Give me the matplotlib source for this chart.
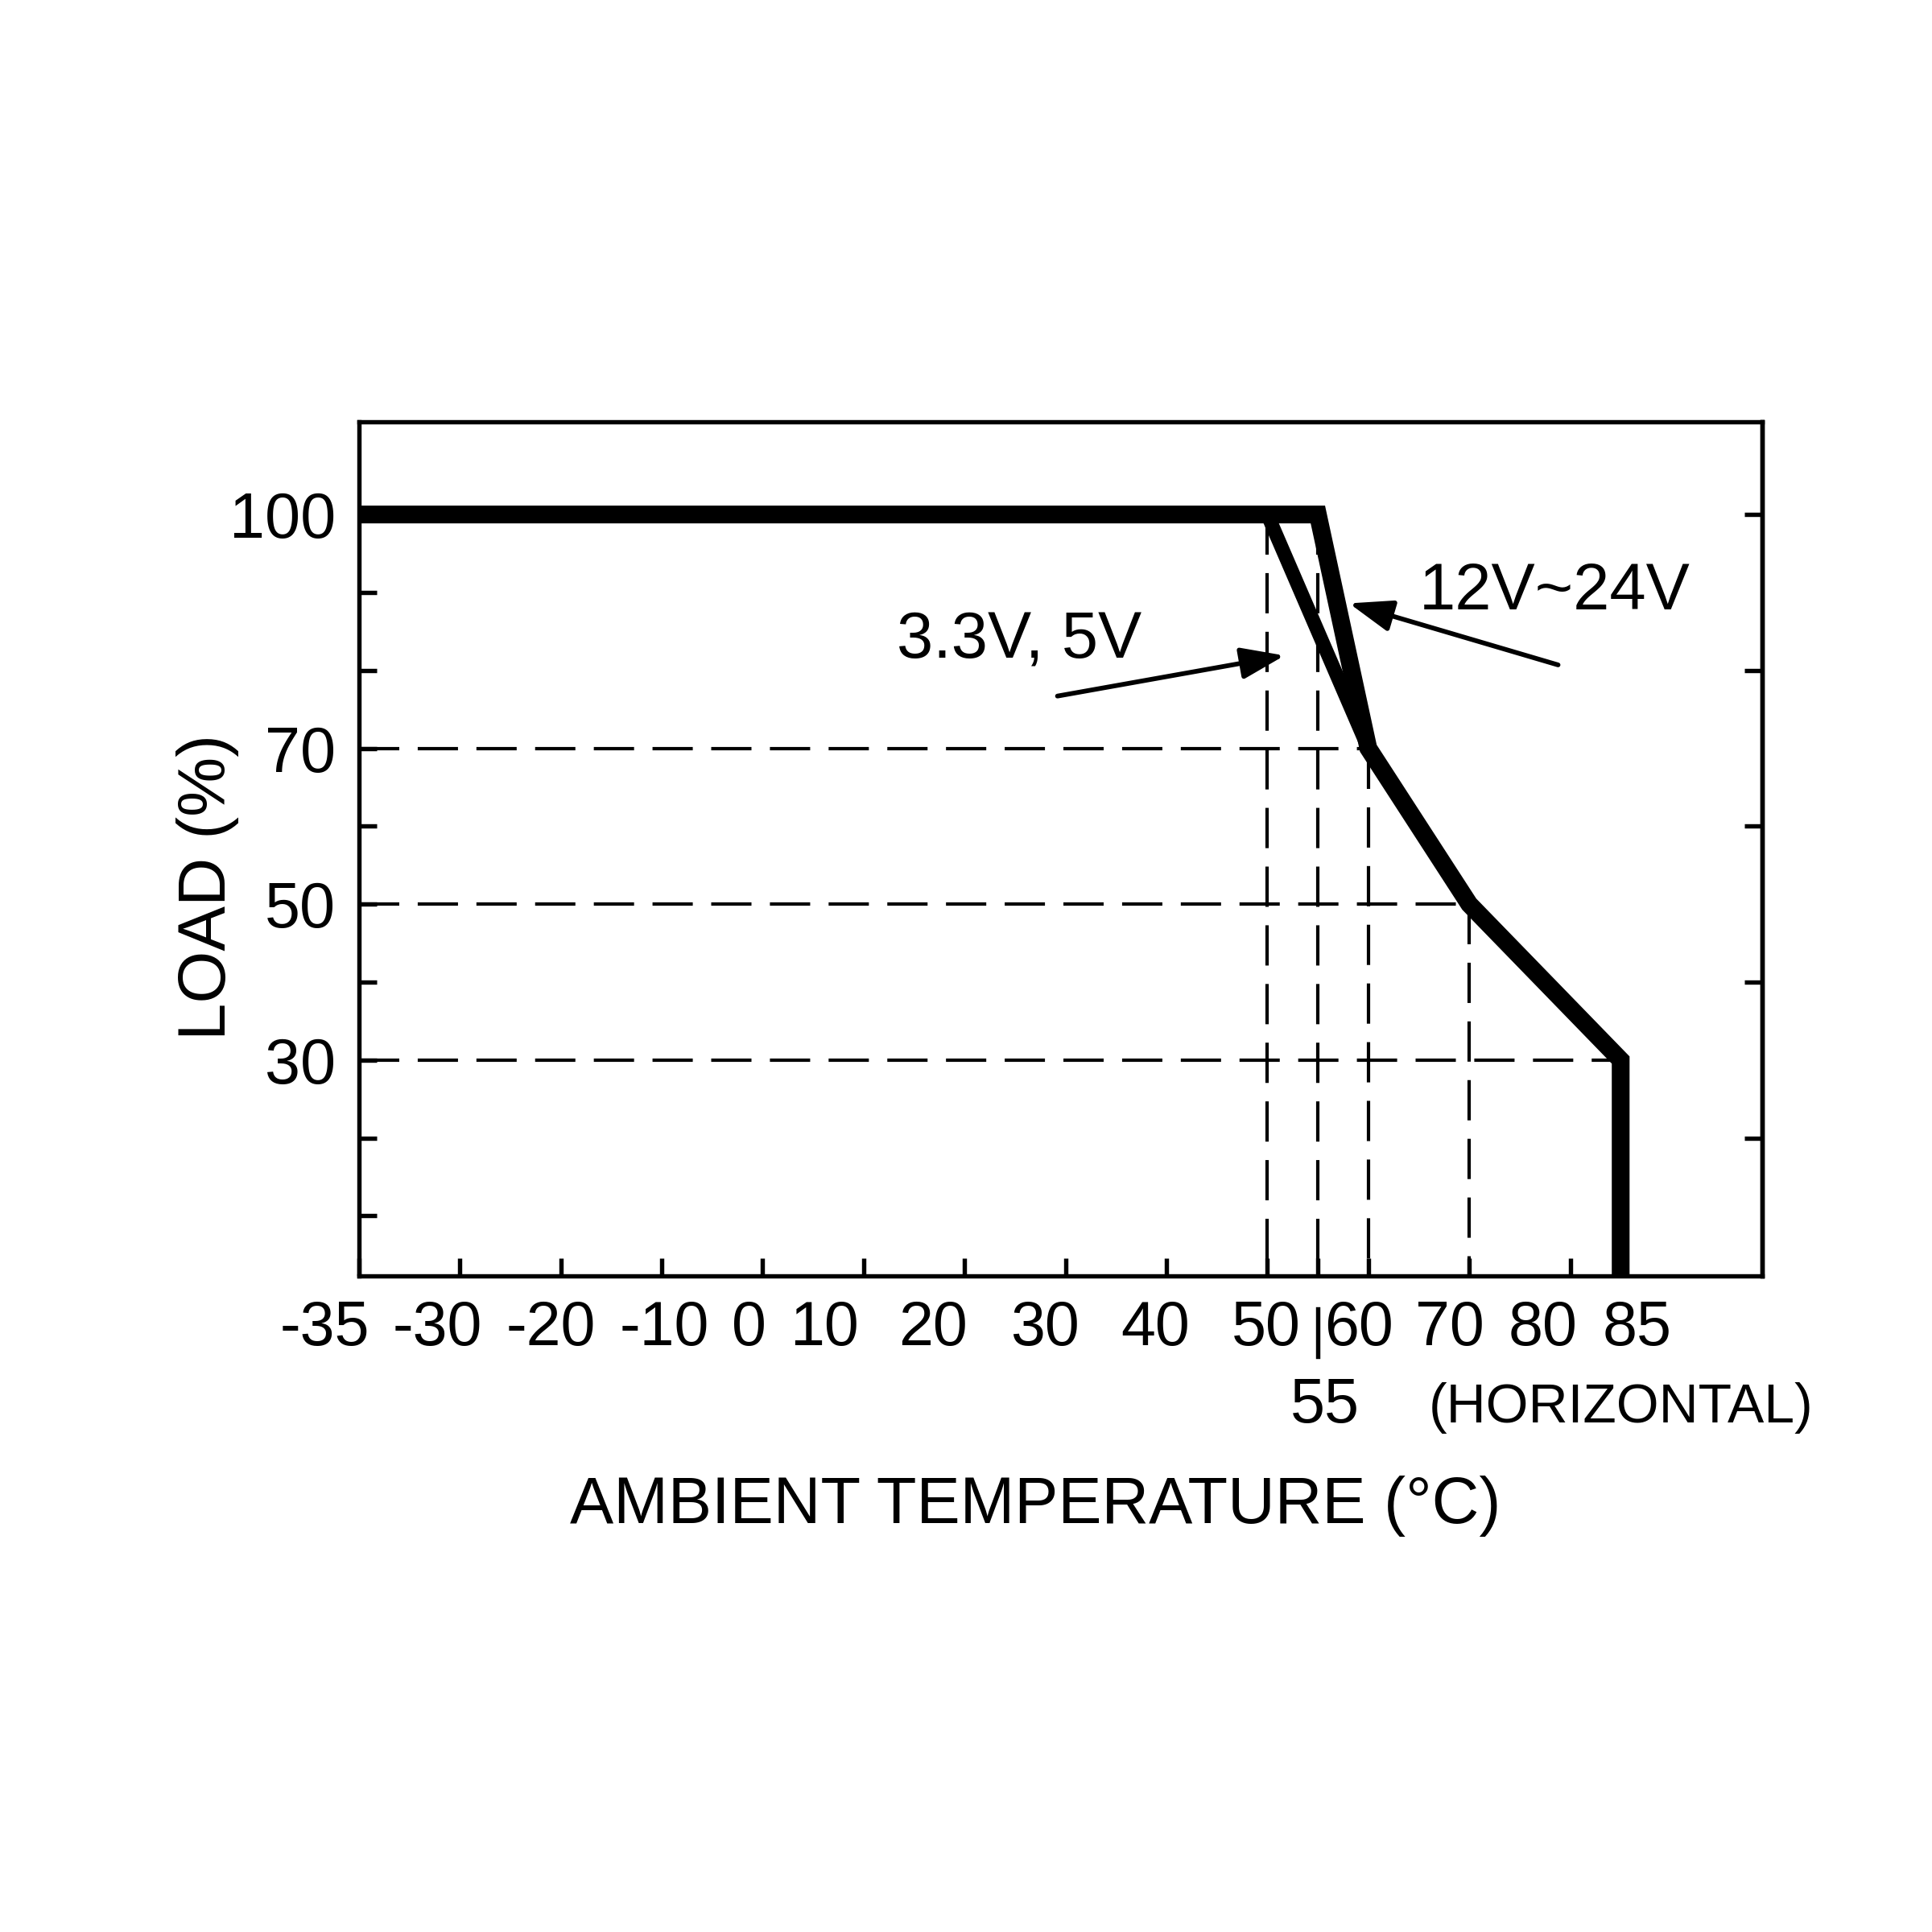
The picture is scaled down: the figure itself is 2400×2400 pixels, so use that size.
import numpy as np
import matplotlib.pyplot as plt
import matplotlib.transforms as mtransforms

plt.rcParams['font.family'] = ['Liberation Sans', 'DejaVu Sans']

# Derating curves (ambient temperature in C, load in %)
temp_12v = [-35, 55, 60, 70, 85, 85]
load_12v = [100, 100, 70, 50, 30, 0]
temp_5v = [50, 60]
load_5v = [100, 70]

# Axis ticks
x_ticks = [-35, -30, -20, -10, 0, 10, 20, 30, 40, 50, 55, 60, 70, 80, 85]
x_labels = ['-35', '-30', '-20', '-10', '0', '10', '20', '30', '40', '50', '', '60', '70', '80', '85']
y_major = [100, 70, 50, 30]
y_minor = [90, 80, 60, 40, 20, 10]
y_right = [100, 80, 60, 40, 20]

# Dashed guide lines
h_guides = [(70, 60), (50, 70), (30, 85)]              # (load, temperature where it ends)
v_guides = [(50, 100), (55, 100), (60, 70), (70, 50)]  # (temperature, load where it starts)

# the drawing's tick labels are not centred on their ticks (shift in points)
x_label_shift = [-10.3, -6.6, -2.9, 0.7, -4.0, -11.7, -9.5, -6.2, -3.3, -0.4, 0, -2.9, -5.9, -8.1, 4.8]


# -35..-30 is squeezed into the space of 10 degrees on the drawing
def fwd(t):
    t = np.asarray(t, dtype=float)
    return np.where(t < -30, 2 * t + 30, t)


def inv(u):
    u = np.asarray(u, dtype=float)
    return np.where(u < -30, (u - 30) / 2, u)


fig = plt.figure(figsize=(8, 8), dpi=300)
ax = fig.add_axes([0.1858, 0.3396, 0.7262, 0.4421])
ax.set_xscale('function', functions=(fwd, inv))
ax.set_xlim(-35, 99)
ax.set_ylim(2.3, 111.9)

dash = (0, (12, 5.5))
for load, t_end in h_guides:
    ax.plot([-35, t_end], [load, load], color='black', lw=1.0, linestyle=dash, zorder=1)
for t, load in v_guides:
    ax.plot([t, t], [load, 0], color='black', lw=1.0, linestyle=dash, zorder=1)

ax.plot(temp_5v, load_5v, color='black', lw=4.2, solid_joinstyle='miter',
        solid_capstyle='butt', zorder=3)
ax.plot(temp_12v, load_12v, color='black', lw=5.3, solid_joinstyle='miter',
        solid_capstyle='butt', zorder=3)

# Labels and arrows
ax.text(13.3, 83.7, '3.3V, 5V', fontsize=19.5, ha='left', va='center')
ax.annotate('', xy=(51.7, 81.9), xytext=(29.2, 76.7),
            arrowprops=dict(arrowstyle='-|>,head_length=0.55,head_width=0.2',
                            mutation_scale=20, lw=1.4, color='black',
                            shrinkA=0, shrinkB=0))
ax.text(65.0, 90.0, '12V~24V', fontsize=19.5, ha='left', va='center')
ax.annotate('', xy=(58.1, 88.6), xytext=(78.8, 80.7),
            arrowprops=dict(arrowstyle='-|>,head_length=0.55,head_width=0.2',
                            mutation_scale=20, lw=1.4, color='black',
                            shrinkA=0, shrinkB=0))

# Axes styling
for s in ax.spines.values():
    s.set_linewidth(1.3)
ax.set_xticks(x_ticks)
ax.set_xticklabels(x_labels)
ax.set_yticks(y_major)
ax.set_yticks(y_minor, minor=True)
ax.xaxis.set_minor_locator(plt.NullLocator())
ax.tick_params(axis='both', which='both', direction='in', length=5.3, width=1.3,
               top=False, right=False)
ax.tick_params(axis='x', labelsize=18.5, pad=7)
ax.tick_params(axis='y', labelsize=19, pad=7)

for lab, dx in zip(ax.get_xticklabels(), x_label_shift):
    lab.set_transform(lab.get_transform() +
                      mtransforms.ScaledTranslation(dx / 72, 0, fig.dpi_scale_trans))

sec = ax.secondary_yaxis('right')
sec.set_yticks(y_right)
sec.set_yticklabels([])
sec.tick_params(direction='in', length=5.3, width=1.3)
sec.spines['right'].set_linewidth(1.3)

# The 55 tick label sits lower with a pointer line
trans = ax.get_xaxis_transform()
ax.plot([55, 55], [-0.039, -0.094], transform=trans, color='black', lw=1.3, clip_on=False)
ax.text(55.7, -0.152, '55', transform=trans, fontsize=18.5, ha='center', va='center')
ax.text(85, -0.155, '(HORIZONTAL)', transform=trans, fontsize=16.3, ha='center', va='center')

ax.text(0.482, -0.27, 'AMBIENT TEMPERATURE (°C)', transform=ax.transAxes,
        fontsize=19.5, ha='center', va='center')
ax.text(-0.108, 0.455, 'LOAD (%)', transform=ax.transAxes, rotation=90,
        fontsize=20, ha='center', va='center')

fig.savefig('out.png', dpi=300, facecolor='white')
